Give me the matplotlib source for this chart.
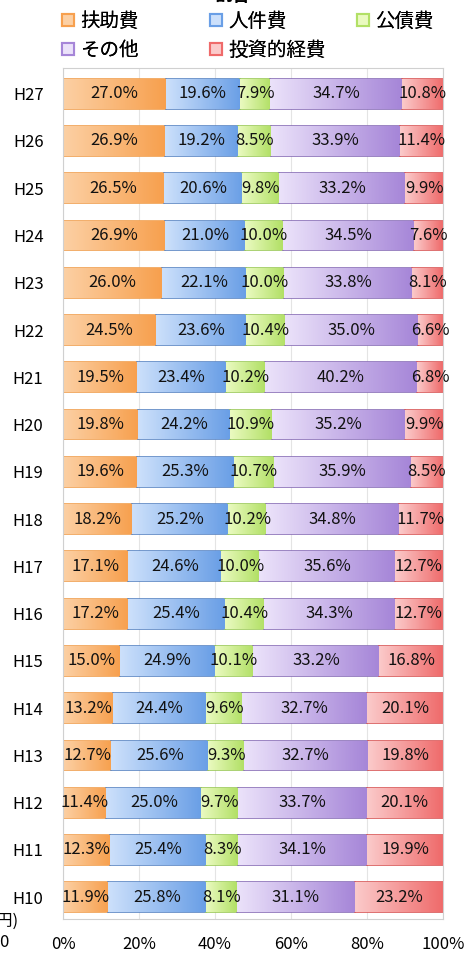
import matplotlib
matplotlib.use("Agg")
import matplotlib.pyplot as plt
import numpy as np
from matplotlib.colors import LinearSegmentedColormap

plt.rcParams['font.family'] = ['Noto Sans CJK JP', 'DejaVu Sans']

# 年度（上から順）
years = ['H27', 'H26', 'H25', 'H24', 'H23', 'H22', 'H21', 'H20', 'H19',
         'H18', 'H17', 'H16', 'H15', 'H14', 'H13', 'H12', 'H11', 'H10']
categories = ['扶助費', '人件費', '公債費', 'その他', '投資的経費']

fujohi = [27.0, 26.9, 26.5, 26.9, 26.0, 24.5, 19.5, 19.8, 19.6,
          18.2, 17.1, 17.2, 15.0, 13.2, 12.7, 11.4, 12.3, 11.9]
jinkenhi = [19.6, 19.2, 20.6, 21.0, 22.1, 23.6, 23.4, 24.2, 25.3,
            25.2, 24.6, 25.4, 24.9, 24.4, 25.6, 25.0, 25.4, 25.8]
kosaihi = [7.9, 8.5, 9.8, 10.0, 10.0, 10.4, 10.2, 10.9, 10.7,
           10.2, 10.0, 10.4, 10.1, 9.6, 9.3, 9.7, 8.3, 8.1]
sonota = [34.7, 33.9, 33.2, 34.5, 33.8, 35.0, 40.2, 35.2, 35.9,
          34.8, 35.6, 34.3, 33.2, 32.7, 32.7, 33.7, 34.1, 31.1]
toshi = [10.8, 11.4, 9.9, 7.6, 8.1, 6.6, 6.8, 9.9, 8.5,
         11.7, 12.7, 12.7, 16.8, 20.1, 19.8, 20.1, 19.9, 23.2]

series = [fujohi, jinkenhi, kosaihi, sonota, toshi]
# (明るい色, 濃い色, 枠線)
colors = [('#fcd0a4', '#f7a04e', '#f0a050'),
          ('#cce0fb', '#6a9fe6', '#5b86c4'),
          ('#eafac0', '#b2e066', '#9cc95a'),
          ('#ebe2fa', '#a686d8', '#8a70b8'),
          ('#fbcaca', '#ef6a6a', '#d85858')]

fig = plt.figure(figsize=(4.65, 9.6), dpi=100)
ax = fig.add_axes([0.1355, 0.0427, 0.8172, 0.8863])

data = np.array(series)
totals = data.sum(axis=0)
pct = data / totals * 100
y = np.arange(len(years))[::-1]
left = np.zeros(len(years))

handles = []
for i, cat in enumerate(categories):
    light, dark, edge = colors[i]
    cmap = LinearSegmentedColormap.from_list(cat, [light, dark])
    bars = ax.barh(y, pct[i], left=left, height=0.63, color=dark,
                   edgecolor=edge, linewidth=1.2, label=cat, zorder=2)
    for b, v in zip(bars, series[i]):
        x0, y0 = b.get_x(), b.get_y()
        w, h = b.get_width(), b.get_height()
        grad = np.linspace(0, 1, 64).reshape(1, -1)
        im = ax.imshow(grad, cmap=cmap, aspect='auto', extent=(x0, x0 + w, y0, y0 + h),
                       zorder=2.5, interpolation='bicubic')
        im.set_clip_path(b)
        ax.text(x0 + w / 2, y0 + h / 2, f'{v:.1f}%', ha='center', va='center',
                fontsize=12, color='#111111', zorder=4)
    left += pct[i]
    handles.append(plt.Rectangle((0, 0), 1, 1, facecolor=light, edgecolor=dark, linewidth=1.5))

ax.set_xlim(0, 100)
ax.set_ylim(-0.46, 17.54)
ax.set_xticks(np.arange(0, 101, 20))
ax.set_xticklabels([f'{t}%' for t in range(0, 101, 20)], fontsize=12)
ax.set_yticks(y)
ax.set_yticklabels(years, fontsize=12)
ax.tick_params(axis='y', length=0, pad=14)
ax.tick_params(axis='x', length=0, pad=12)
ax.grid(axis='x', color='#e4e4e4', linewidth=0.8, zorder=0)
ax.set_axisbelow(True)
for s in ax.spines.values():
    s.set_color('#d0d0d0')

# 凡例は列ごとに置く（列の幅をそろえるため）
cols = [[0, 3], [1, 4], [2]]
col_x = [62, 210, 357]
for idx, cx in zip(cols, col_x):
    leg = fig.legend([handles[k] for k in idx], [categories[k] for k in idx],
                     loc='upper left', bbox_to_anchor=(cx / 465, 1 - 11 / 960),
                     frameon=False, fontsize=14, handlelength=0.62, handleheight=0.62,
                     handletextpad=0.3, labelspacing=0.4, borderpad=0, borderaxespad=0)
    fig.add_artist(leg)

# 上と左下にはみ出した他の図の文字
fig.text(0.5, 1.005, '割合', ha='center', va='center', fontsize=13, fontweight='bold')
fig.text(0.040, 0.040, '(百万円)', ha='right', va='center', fontsize=12)
fig.text(0.018, 0.018, '0', ha='right', va='center', fontsize=12)

fig.savefig('out.png', dpi=100)
